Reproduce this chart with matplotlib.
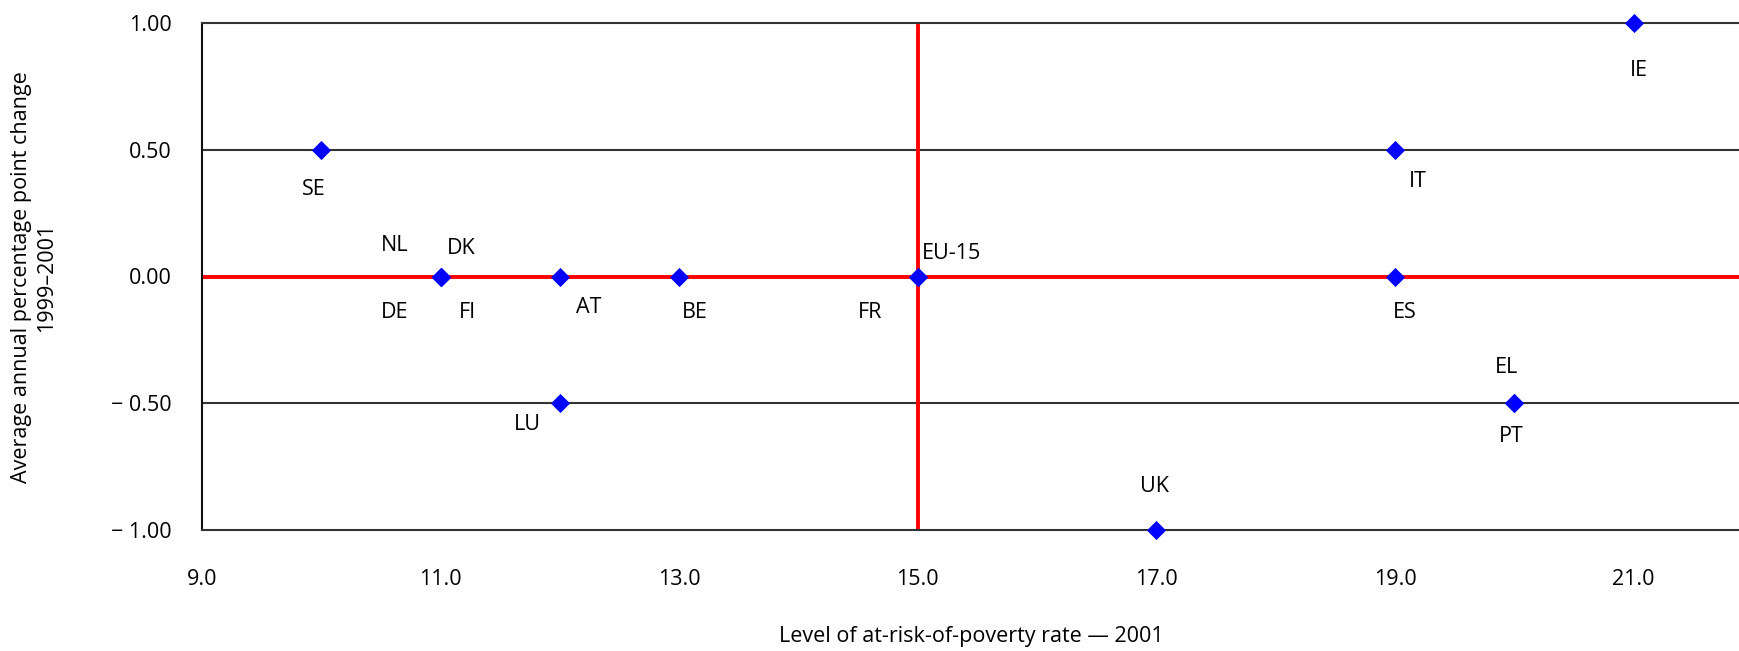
import matplotlib
matplotlib.use("Agg")
import matplotlib.pyplot as plt
from matplotlib import font_manager

names = {f.name for f in font_manager.fontManager.ttflist}
FONT = "Liberation Sans Narrow" if "Liberation Sans Narrow" in names else "Open Sans"
plt.rcParams['font.family'] = [FONT, 'DejaVu Sans']

# Data
countries = ["SE", "NL", "DK", "DE", "FI", "AT", "BE", "FR", "EU-15", "LU",
             "UK", "IT", "ES", "EL", "PT", "IE"]
poverty_rate = [10, 11, 11, 11, 11, 12, 13, 15, 15, 12, 17, 19, 19, 20, 20, 21]
annual_change = [0.5, 0, 0, 0, 0, 0, 0, 0, 0, -0.5, -1, 0.5, 0, -0.5, -0.5, 1]
# label offsets in pixels (dx right, dy down)
label_offsets = {"SE": (-7, 40), "NL": (-46, -31), "DK": (21, -28), "DE": (-46, 36),
                 "FI": (27, 36), "AT": (29, 31), "BE": (16, 36), "FR": (-48, 36),
                 "EU-15": (34, -23), "LU": (-33, 21), "UK": (-2, -44), "IT": (23, 32),
                 "ES": (10, 36), "EL": (-8, -36), "PT": (-3, 33), "IE": (5, 47)}
x_ticks = [9, 11, 13, 15, 17, 19, 21]
x_ticklabels = ["9.0", "11.0", "13.0", "15.0", "17.0", "19.0", "21.0"]
y_ticks = [1.0, 0.5, 0.0, -0.5, -1.0]
y_ticklabels = ["1.00", "0.50", "0.00", "\u2212 0.50", "\u2212 1.00"]

W, H = 1740, 651
fig = plt.figure(figsize=(W / 100, H / 100), dpi=100)
left, right, top, bottom = 202, 1740, 23, 530
ax = fig.add_axes([left / W, 1 - bottom / H, (right - left) / W, (bottom - top) / H])
ppu = 119.3
ax.set_xlim(9, 9 + (right - left) / ppu)
ax.set_ylim(-1, 1)

for y in [0.5, -0.5]:
    ax.axhline(y, color="#333333", lw=1.5, zorder=1)
ax.axhline(0, color="#ff0000", lw=2.8, zorder=2)
ax.axvline(15, color="#ff0000", lw=2.8, zorder=2)

ax.scatter(poverty_rate, annual_change, marker="D", s=95, color="#0000ff",
           zorder=5, clip_on=False, linewidths=0)

px2pt = 72 / 100
for c, x, y in zip(countries, poverty_rate, annual_change):
    dx, dy = label_offsets[c]
    ax.annotate(c, (x, y), xytext=(dx * px2pt, -dy * px2pt), textcoords="offset points",
                ha="center", va="center", fontsize=15.5, color="#000000")

ax.spines["right"].set_visible(False)
ax.spines["left"].set_color("#111111")
ax.spines["top"].set_color("#333333")
ax.spines["bottom"].set_color("#333333")
for s in ["left", "top", "bottom"]:
    ax.spines[s].set_linewidth(1.5)

ax.set_xticks(x_ticks)
ax.set_xticklabels(x_ticklabels)
ax.set_yticks(y_ticks)
ax.set_yticklabels(y_ticklabels)
ax.tick_params(length=0, labelsize=15.5, colors="#000000")
ax.tick_params(axis="x", pad=28)
ax.tick_params(axis="y", pad=22)

ax.set_xlabel("Level of at-risk-of-poverty rate \u2014 2001", fontsize=15.5, labelpad=26, color="#000000")
fig.text(34 / W, 1 - 277 / H, "Average annual percentage point change\n1999\u20132001",
         rotation=90, ha="center", va="center", fontsize=15.5, color="#000000",
         multialignment="center")

fig.savefig("out.png", dpi=100)
